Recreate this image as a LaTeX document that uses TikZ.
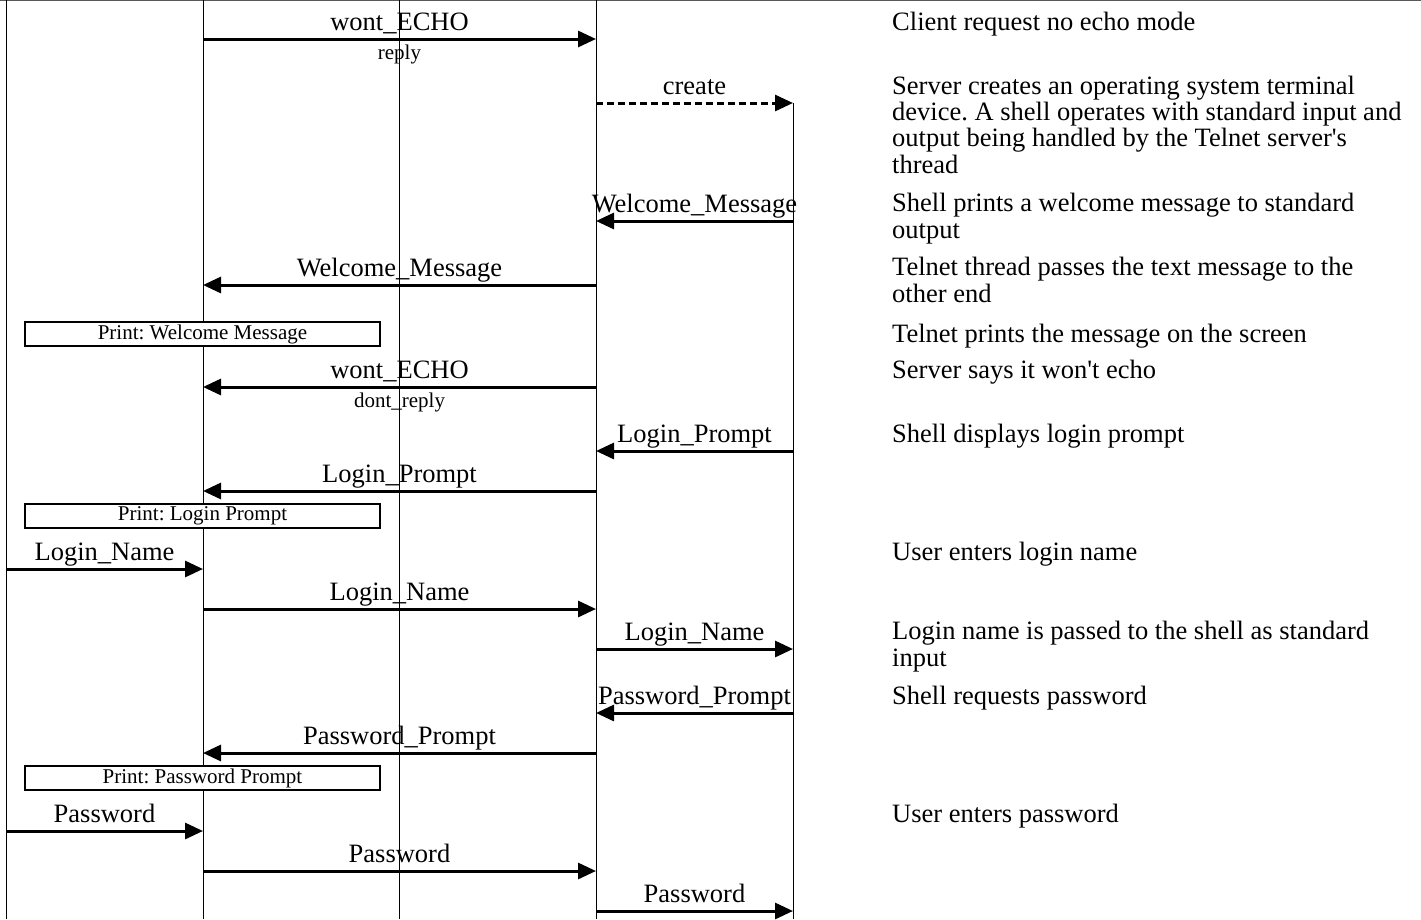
\documentclass[tikz,border=0pt]{standalone}
\usepackage{fontspec}
\setmainfont{Liberation Serif}
\usetikzlibrary{arrows.meta}
\frenchspacing

\tikzset{
  lifeline/.style={line width=1pt},
  msg/.style={line width=3pt,-{Triangle[length=18pt,width=16pt]}},
  spawn/.style={msg,dash pattern=on 7pt off 4pt},
  lbl/.style={midway,anchor=base,yshift=9pt,inner sep=0pt,font=\fontsize{26.5}{26.5}\selectfont},
  sublbl/.style={midway,anchor=base,yshift=-20pt,inner sep=0pt,font=\fontsize{21}{21}\selectfont},
  printbox/.style={draw,line width=2pt,minimum width=355pt,minimum height=24pt,inner sep=0pt,font=\fontsize{21}{21}\selectfont},
  desc/.style={anchor=base west,align=left,inner sep=0pt,font=\fontsize{26.5}{26.3}\selectfont}
}

\begin{document}
\begin{tikzpicture}[x=1pt,y=-1pt]
\useasboundingbox (0,0) rectangle (1421,919);

% Frame edge
\draw[gray!70!black,line width=2pt] (0,0) -- (1421,0);

% Lifelines
\coordinate (user) at (6,0);
\coordinate (telnet) at (203,0);
\coordinate (net) at (399,0);
\coordinate (server) at (596,0);
\coordinate (shell) at (793,103);
\coordinate (bot) at (0,919);

\draw[lifeline] (user) -- (user |- bot);
\draw[lifeline] (telnet) -- (telnet |- bot);
\draw[lifeline] (net) -- (net |- bot);
\draw[lifeline] (server) -- (server |- bot);
\draw[lifeline] (shell) -- (shell |- bot);

% Message rows
\coordinate (r1) at (0,39);
\coordinate (r2) at (0,103);
\coordinate (r3) at (0,221);
\coordinate (r4) at (0,285);
\coordinate (r6) at (0,387);
\coordinate (r7) at (0,451);
\coordinate (r8) at (0,491);
\coordinate (r10) at (0,569);
\coordinate (r11) at (0,609);
\coordinate (r12) at (0,649);
\coordinate (r13) at (0,713);
\coordinate (r14) at (0,753);
\coordinate (r16) at (0,831);
\coordinate (r17) at (0,871);
\coordinate (r18) at (0,911);

% Messages
\draw[msg] (telnet |- r1) -- (server |- r1) node[lbl] {wont\_ECHO} node[sublbl] {reply};
\draw[spawn] (server |- r2) -- (shell |- r2) node[lbl] {create};
\draw[msg] (shell |- r3) -- (server |- r3) node[lbl] {Welcome\_Message};
\draw[msg] (server |- r4) -- (telnet |- r4) node[lbl] {Welcome\_Message};
\draw[msg] (server |- r6) -- (telnet |- r6) node[lbl] {wont\_ECHO} node[sublbl] {dont\_reply};
\draw[msg] (shell |- r7) -- (server |- r7) node[lbl] {Login\_Prompt};
\draw[msg] (server |- r8) -- (telnet |- r8) node[lbl] {Login\_Prompt};
\draw[msg] (user |- r10) -- (telnet |- r10) node[lbl] {Login\_Name};
\draw[msg] (telnet |- r11) -- (server |- r11) node[lbl] {Login\_Name};
\draw[msg] (server |- r12) -- (shell |- r12) node[lbl] {Login\_Name};
\draw[msg] (shell |- r13) -- (server |- r13) node[lbl] {Password\_Prompt};
\draw[msg] (server |- r14) -- (telnet |- r14) node[lbl] {Password\_Prompt};
\draw[msg] (user |- r16) -- (telnet |- r16) node[lbl] {Password};
\draw[msg] (telnet |- r17) -- (server |- r17) node[lbl] {Password};
\draw[msg] (server |- r18) -- (shell |- r18) node[lbl] {Password};

% Local actions
\node[printbox,fill=white] (p1) at (202.5,334) {Print: Welcome Message};
\node[printbox,fill=white] (p2) at (202.5,516) {Print: Login Prompt};
\node[printbox,fill=white] (p3) at (202.5,778) {Print: Password Prompt};

% Descriptions (anchored at the last line's baseline)
\node[desc] (d1) at (892,30) {Client request no echo mode};
\node[desc] (d2) at (892,173) {Server creates an operating system terminal\\device. A shell operates with standard input and\\output being handled by the Telnet server\textquotesingle s\\thread};
\node[desc] (d3) at (892,238) {Shell prints a welcome message to standard\\output};
\node[desc] (d4) at (892,302) {Telnet thread passes the text message to the\\other end};
\node[desc] (d5) at (892,342) {Telnet prints the message on the screen};
\node[desc] (d6) at (892,378) {Server says it won\textquotesingle t echo};
\node[desc] (d7) at (892,442) {Shell displays login prompt};
\node[desc] (d8) at (892,560) {User enters login name};
\node[desc] (d9) at (892,666) {Login name is passed to the shell as standard\\input};
\node[desc] (d10) at (892,704) {Shell requests password};
\node[desc] (d11) at (892,822) {User enters password};

\end{tikzpicture}
\end{document}
